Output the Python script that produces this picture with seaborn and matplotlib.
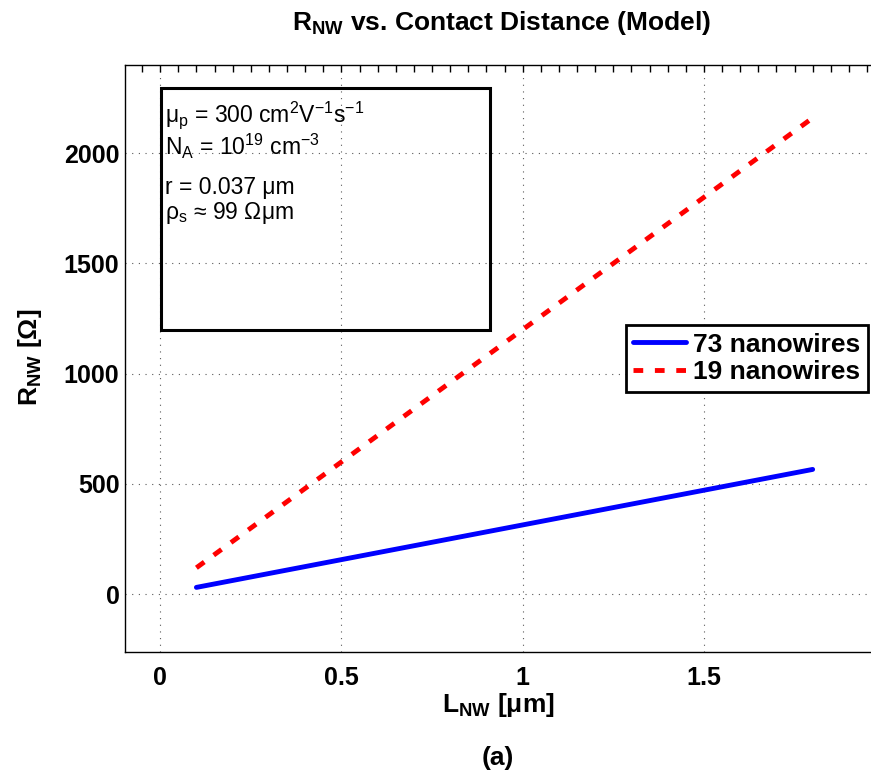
import numpy as np
import pandas as pd
import seaborn as sns
import matplotlib.pyplot as plt
from matplotlib.patches import Rectangle
from matplotlib.ticker import MultipleLocator

# values
length_um = [0.1, 1.8]
r_73 = [31, 566]
r_19 = [120, 2160]
series = ["73 nanowires", "19 nanowires"]
x_ticks = [0, 0.5, 1, 1.5]
x_tick_labels = ["0", "0.5", "1", "1.5"]
y_ticks = [0, 500, 1000, 1500, 2000]
y_tick_labels = ["0", "500", "1000", "1500", "2000"]

df = pd.DataFrame({
    "L": length_um * 2,
    "R": r_73 + r_19,
    "wires": [series[0]] * len(length_um) + [series[1]] * len(length_um),
})

sns.set_style("white")
plt.rcParams["font.family"] = ["Liberation Sans", "DejaVu Sans"]
plt.rcParams["mathtext.fontset"] = "custom"
plt.rcParams["mathtext.rm"] = "Liberation Sans"
plt.rcParams["mathtext.bf"] = "Liberation Sans:bold"
plt.rcParams["mathtext.default"] = "rm"
for key in ["text.color", "axes.labelcolor", "xtick.color", "ytick.color"]:
    plt.rcParams[key] = "black"

fig = plt.figure(figsize=(8.71, 7.78), dpi=100)
ax = fig.add_axes([125 / 871, 1 - 652 / 778, 760 / 871, 587 / 778])

sns.lineplot(data=df, x="L", y="R", hue="wires", style="wires",
             palette={series[0]: "#0000ff", series[1]: "#ff0000"},
             dashes={series[0]: "", series[1]: (2, 2.4)},
             linewidth=3.5, ax=ax)

ax.set_xlim(-0.097, 1.9996)
ax.set_ylim(-262, 2400)
ax.set_xticks(x_ticks, labels=x_tick_labels)
ax.set_yticks(y_ticks, labels=y_tick_labels)
ax.xaxis.set_minor_locator(MultipleLocator(0.05))
ax.yaxis.set_minor_locator(MultipleLocator(100))
ax.tick_params(which="both", direction="in", top=True, right=False,
               length=5, width=1, color="black")
ax.tick_params(axis="x", labelsize=18, pad=10)
ax.tick_params(axis="y", labelsize=18, pad=4)
for lab in ax.get_xticklabels() + ax.get_yticklabels():
    lab.set_fontweight("bold")
ax.grid(True, which="major", linestyle=(0, (1, 5)), color="0.35", linewidth=0.8)
for sp in ax.spines.values():
    sp.set_color("black")
    sp.set_linewidth(1)
ax.spines["right"].set_visible(False)
ax.set_xlabel("")
ax.set_ylabel("")

sns.move_legend(ax, "center right", bbox_to_anchor=((868 - 125) / 760, 0.5), title=None,
                frameon=True, fancybox=False, prop={"size": 19, "weight": "bold"},
                handlelength=2.0, handletextpad=0.25, borderpad=0.3,
                labelspacing=0.15, borderaxespad=0)
leg = ax.get_legend()
leg.get_frame().set_edgecolor("black")
leg.get_frame().set_linewidth(2)
leg.get_frame().set_alpha(1)

# parameter box
ax.add_patch(Rectangle((36 / 760, 1 - 265 / 587), 329 / 760, 242 / 587,
                       transform=ax.transAxes, fill=False, edgecolor="black",
                       linewidth=2.2, zorder=5))
box_lines = [
    ("μ$_\\mathrm{p}$ = 300 cm$^\\mathrm{2}$V$^\\mathrm{-1}$s$^\\mathrm{-1}$", 121.7),
    ("N$_\\mathrm{A}$ = 10$^\\mathrm{19}$ cm$^\\mathrm{-3}$", 155),
    ("r = 0.037 μm", 194),
    ("ρ$_\\mathrm{s}$ ≈ 99 Ωμm", 219),
]
for txt, py in box_lines:
    ax.text(40 / 760, 1 - (py - 65) / 587, txt, transform=ax.transAxes,
            fontsize=16.5, va="baseline", ha="left")

fig.text(502 / 871, 1 - 30 / 778, "R$_\\mathbf{NW}$ vs. Contact Distance (Model)",
         fontsize=19, fontweight="bold", ha="center", va="baseline")
fig.text(498 / 871, 1 - 712 / 778, "L$_\\mathbf{NW}$ [μm]",
         fontsize=19, fontweight="bold", ha="center", va="baseline")
fig.text(30 / 871, 1 - 357 / 778, "R$_\\mathbf{NW}$ [Ω]", rotation=90,
         fontsize=19, fontweight="bold", ha="center", va="center")
fig.text(498 / 871, 1 - 765 / 778, "(a)",
         fontsize=19, fontweight="bold", ha="center", va="baseline")

fig.savefig("out.png", dpi=100)
